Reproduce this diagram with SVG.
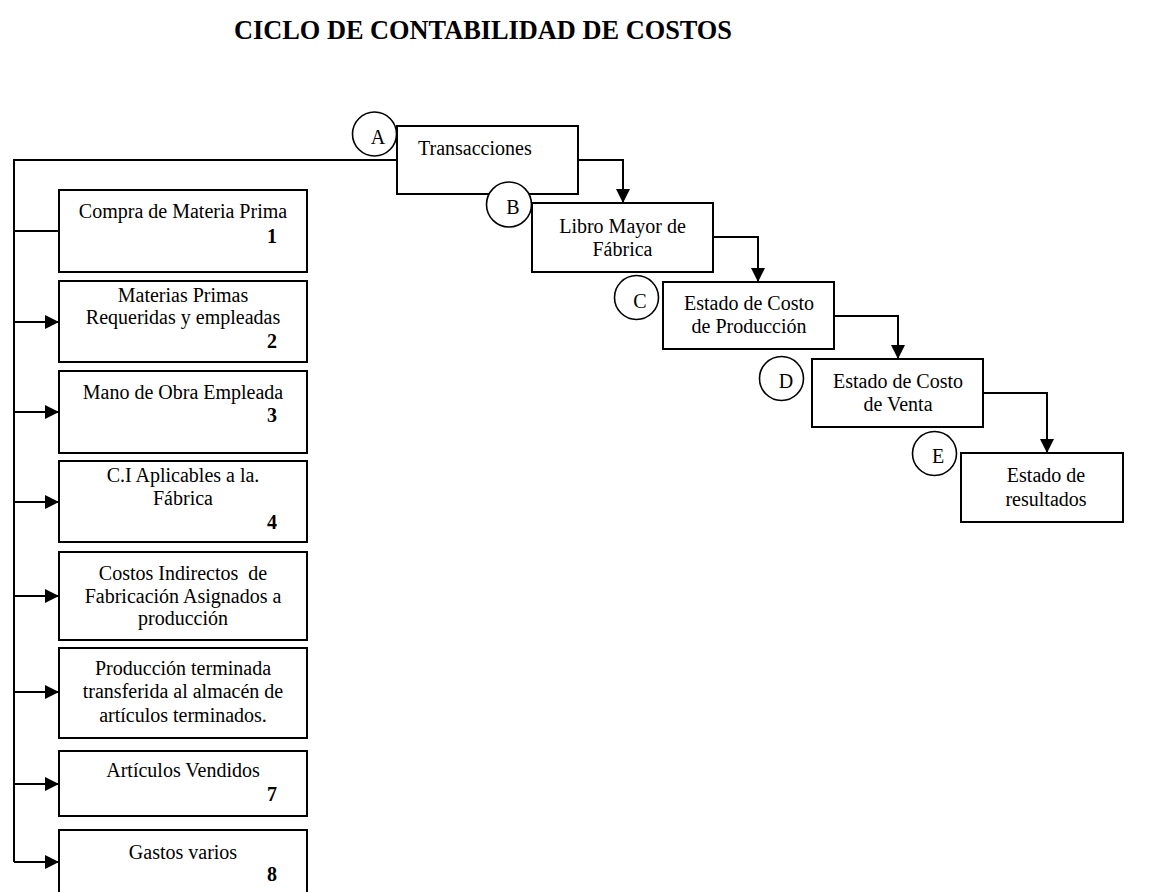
<svg xmlns="http://www.w3.org/2000/svg" width="1155" height="892" viewBox="0 0 1155 892">
  <style>
    .box { fill: #fff; stroke: #000; stroke-width: 2; }
    .circ { fill: #fff; stroke: #000; stroke-width: 1.6; }
    .ln { fill: none; stroke: #000; stroke-width: 2; }
    text { font-family: "Liberation Serif", "Times New Roman", serif; font-size: 20px; fill: #000; }
    .c { text-anchor: middle; }
    .num { font-weight: bold; text-anchor: end; }
    .title { font-size: 28px; font-weight: bold; text-anchor: middle; }
  </style>
  <defs>
    <marker id="arrowR" markerUnits="userSpaceOnUse" markerWidth="14" markerHeight="14" refX="14" refY="7" orient="auto">
      <path d="M0,0 L14,7 L0,14 Z" fill="#000"/>
    </marker>
  </defs>
  <rect width="1155" height="892" fill="#fff"/>

  <text class="title" x="483" y="39" textLength="498" lengthAdjust="spacingAndGlyphs">CICLO DE CONTABILIDAD DE COSTOS</text>

  <!-- connectors -->
  <g id="connectors">
    <path class="ln" d="M397,160 H14 V862"/>
    <path class="ln" d="M14,231 H59"/>
    <path class="ln" d="M14,322 H59" marker-end="url(#arrowR)"/>
    <path class="ln" d="M14,412 H59" marker-end="url(#arrowR)"/>
    <path class="ln" d="M14,502 H59" marker-end="url(#arrowR)"/>
    <path class="ln" d="M14,596 H59" marker-end="url(#arrowR)"/>
    <path class="ln" d="M14,692 H59" marker-end="url(#arrowR)"/>
    <path class="ln" d="M14,784 H59" marker-end="url(#arrowR)"/>
    <path class="ln" d="M14,862 H59" marker-end="url(#arrowR)"/>
    <path class="ln" d="M578,160 H623 V203" marker-end="url(#arrowR)"/>
    <path class="ln" d="M713,237 H758 V282" marker-end="url(#arrowR)"/>
    <path class="ln" d="M834,316 H898 V359" marker-end="url(#arrowR)"/>
    <path class="ln" d="M983,393 H1047 V453" marker-end="url(#arrowR)"/>
  </g>

  <!-- ledger chain -->
  <g id="transacciones">
    <rect class="box" x="397" y="126" width="181" height="68"/>
    <text x="418" y="155">Transacciones</text>
  </g>
  <g id="libro-mayor">
    <rect class="box" x="532" y="203" width="181" height="69"/>
    <text class="c" x="622.5" y="233">Libro Mayor de</text>
    <text class="c" x="622.5" y="256">Fábrica</text>
  </g>
  <g id="costo-produccion">
    <rect class="box" x="663" y="282" width="171" height="67"/>
    <text class="c" x="749" y="310">Estado de Costo</text>
    <text class="c" x="749" y="333">de Producción</text>
  </g>
  <g id="costo-venta">
    <rect class="box" x="812" y="359" width="171" height="68"/>
    <text class="c" x="898" y="388">Estado de Costo</text>
    <text class="c" x="898" y="411">de Venta</text>
  </g>
  <g id="resultados">
    <rect class="box" x="961" y="453" width="162" height="69"/>
    <text class="c" x="1046" y="482">Estado de</text>
    <text class="c" x="1046" y="506">resultados</text>
  </g>

  <!-- step markers -->
  <g id="marker-a"><circle class="circ" cx="374.5" cy="134" r="22"/><text class="c" x="378" y="144">A</text></g>
  <g id="marker-b"><circle class="circ" cx="509" cy="204.5" r="22.5"/><text class="c" x="513" y="214">B</text></g>
  <g id="marker-c"><circle class="circ" cx="636.5" cy="297.5" r="22"/><text class="c" x="640" y="308">C</text></g>
  <g id="marker-d"><circle class="circ" cx="781.5" cy="378.5" r="22"/><text class="c" x="786" y="388">D</text></g>
  <g id="marker-e"><circle class="circ" cx="934.5" cy="453.5" r="22"/><text class="c" x="938" y="463">E</text></g>

  <!-- transaction list -->
  <g id="t1">
    <rect class="box" x="59" y="190" width="248" height="82"/>
    <text class="c" x="183" y="218">Compra de Materia Prima</text>
    <text class="num" x="277" y="243">1</text>
  </g>
  <g id="t2">
    <rect class="box" x="59" y="281" width="248" height="81"/>
    <text class="c" x="183" y="302">Materias Primas</text>
    <text class="c" x="183" y="324">Requeridas y empleadas</text>
    <text class="num" x="277" y="348">2</text>
  </g>
  <g id="t3">
    <rect class="box" x="59" y="371" width="248" height="82"/>
    <text class="c" x="183" y="399">Mano de Obra Empleada</text>
    <text class="num" x="277" y="422">3</text>
  </g>
  <g id="t4">
    <rect class="box" x="59" y="461" width="248" height="81"/>
    <text class="c" x="183" y="482">C.I Aplicables a la.</text>
    <text class="c" x="183" y="505">Fábrica</text>
    <text class="num" x="277" y="529">4</text>
  </g>
  <g id="t5">
    <rect class="box" x="59" y="552" width="248" height="88"/>
    <text class="c" x="183" y="580">Costos Indirectos&#160; de</text>
    <text class="c" x="183" y="603">Fabricación Asignados a</text>
    <text class="c" x="183" y="625">producción</text>
  </g>
  <g id="t6">
    <rect class="box" x="59" y="648" width="248" height="90"/>
    <text class="c" x="183" y="675">Producción terminada</text>
    <text class="c" x="183" y="698">transferida al almacén de</text>
    <text class="c" x="183" y="722">artículos terminados.</text>
  </g>
  <g id="t7">
    <rect class="box" x="59" y="751" width="248" height="65"/>
    <text class="c" x="183" y="777">Artículos Vendidos</text>
    <text class="num" x="277" y="801">7</text>
  </g>
  <g id="t8">
    <rect class="box" x="59" y="830" width="248" height="70"/>
    <text class="c" x="183" y="859">Gastos varios</text>
    <text class="num" x="277" y="881">8</text>
  </g>
</svg>
